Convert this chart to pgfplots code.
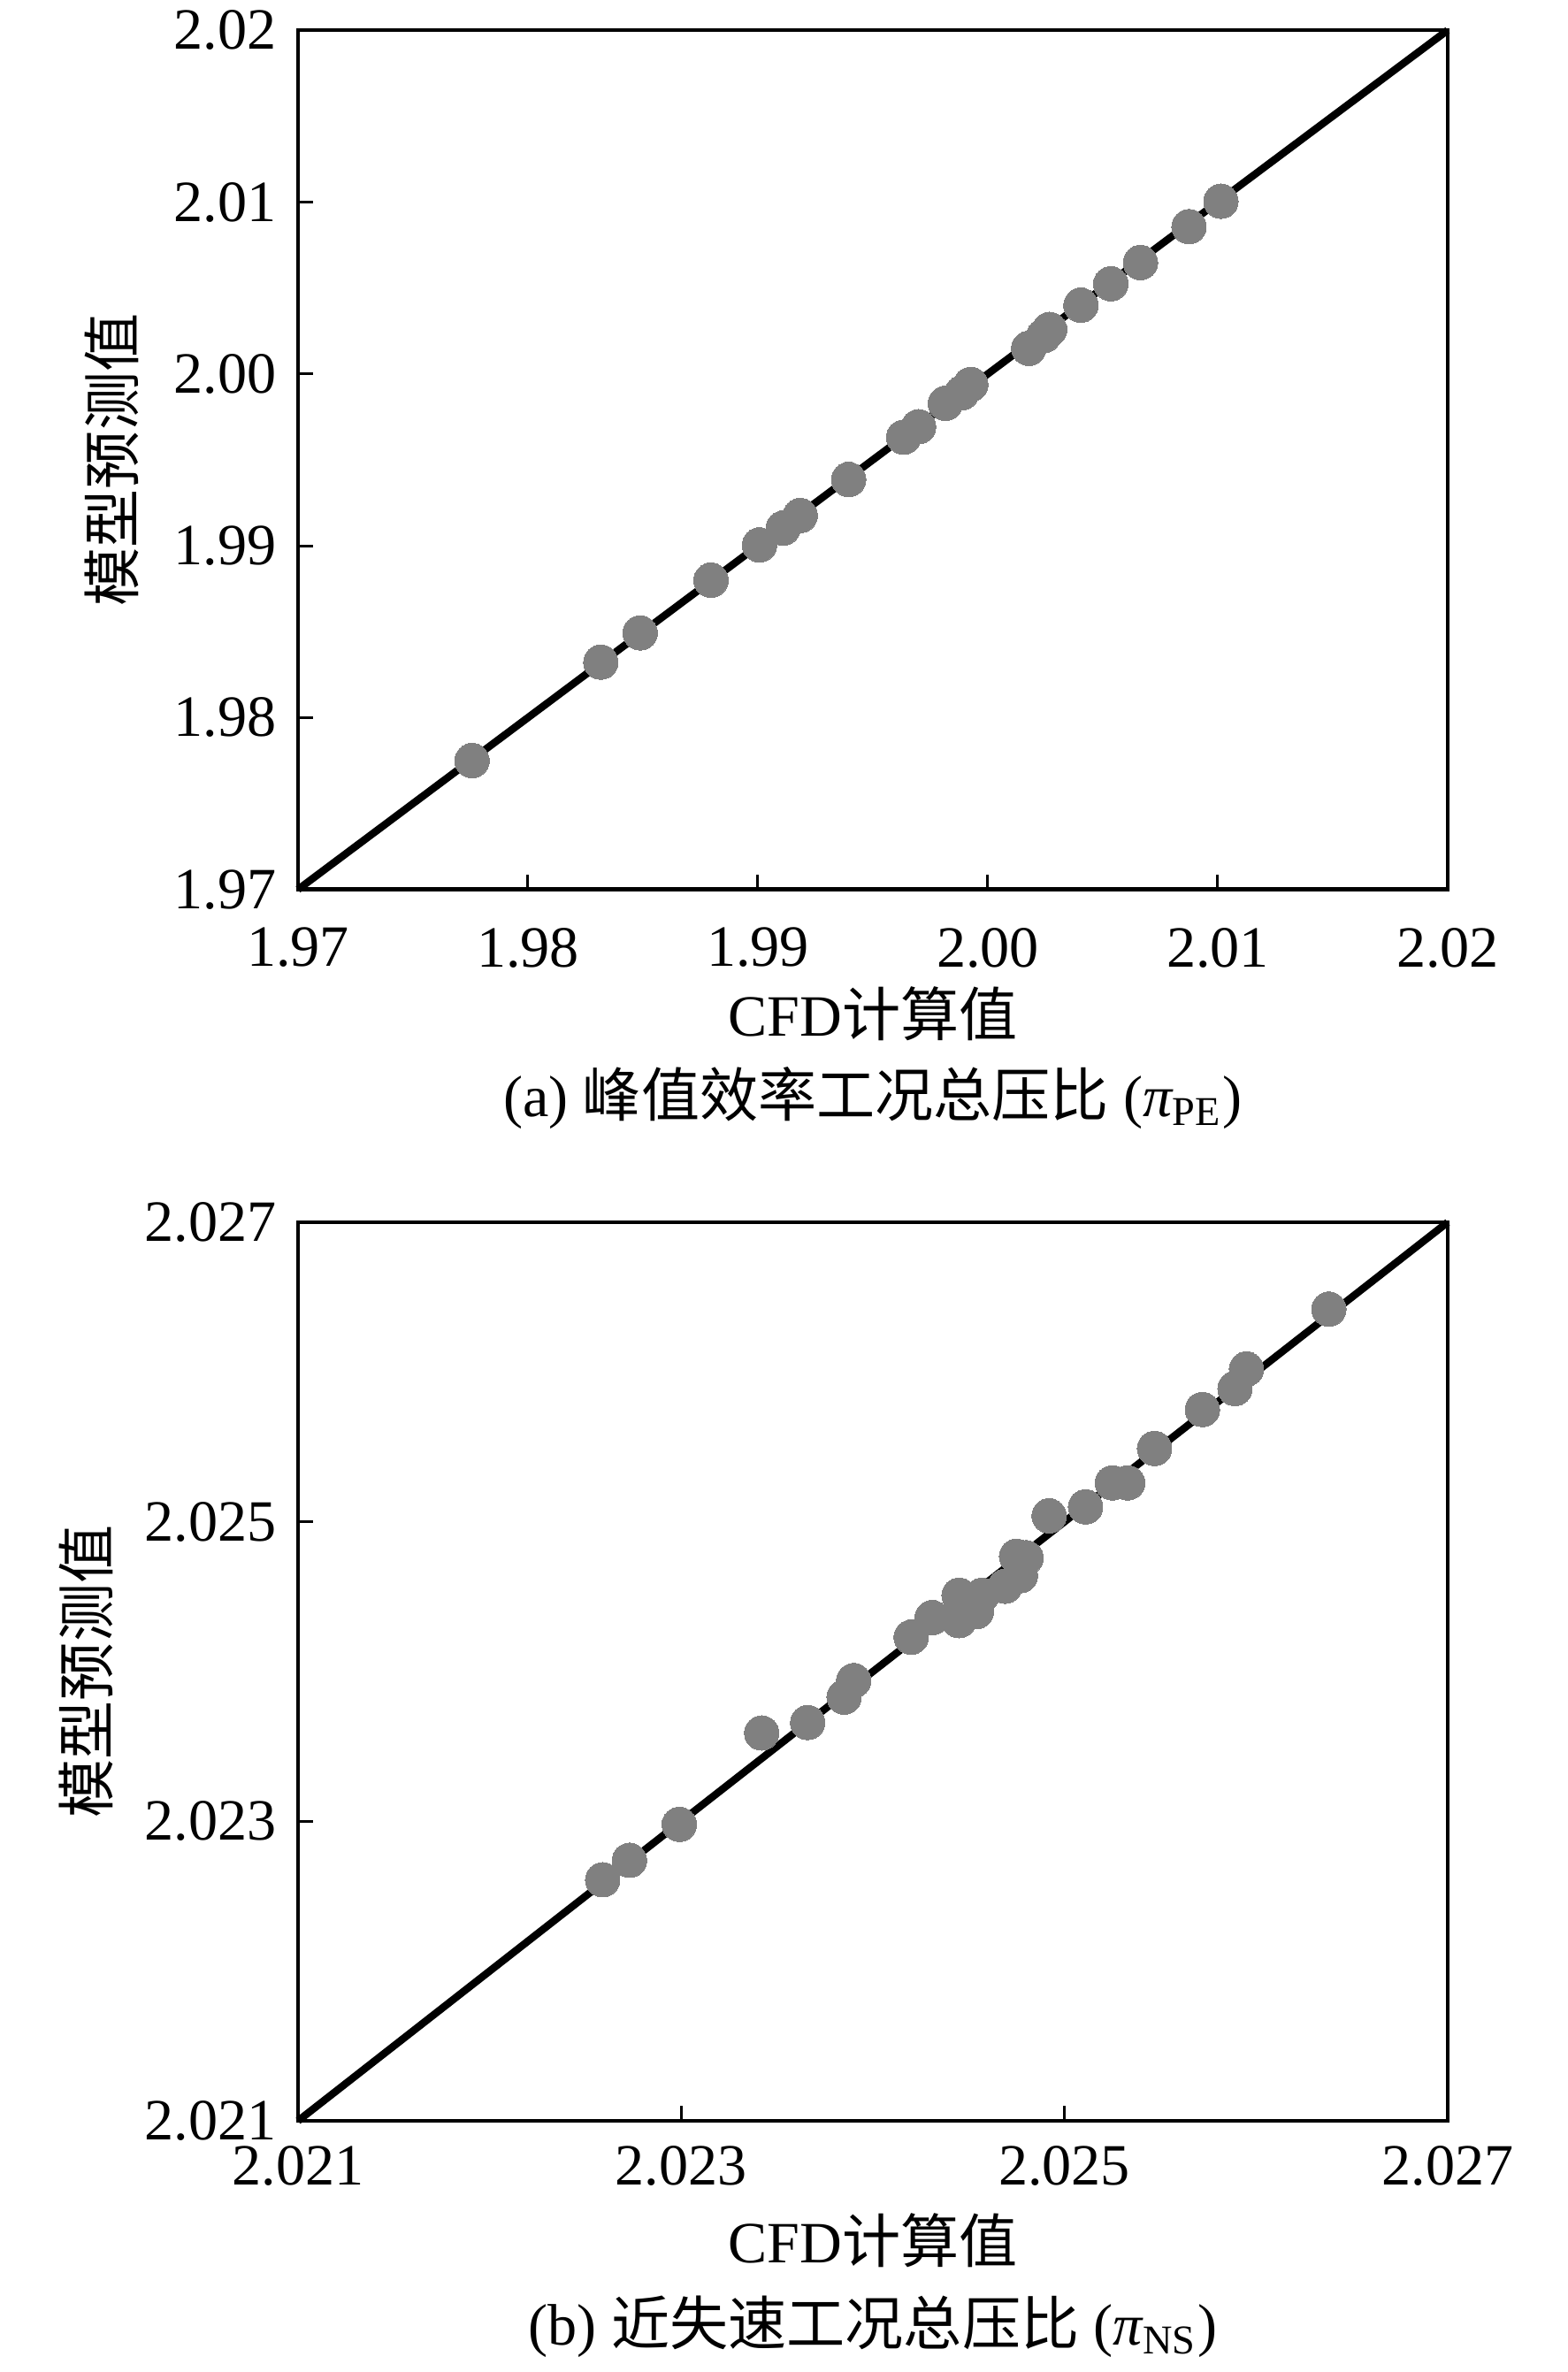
\documentclass[border=0pt]{standalone}
\usepackage{fontspec}
\setmainfont{Liberation Serif}
\newfontfamily\cjk{Noto Sans CJK SC}
\usepackage{pgfplots}
\pgfplotsset{compat=1.18}
\definecolor{ptgray}{RGB}{128,128,128}
\pgfplotsset{
  myax/.style={
    scale only axis,
    width=76mm,
    axis line style={line width=0.75pt},
    tick align=inside,
    xtick pos=bottom,
    ytick pos=left,
    major tick length=1mm,
    every tick/.style={black, line width=0.5pt},
    font=\fontsize{11}{13}\selectfont,
    /pgf/number format/assume math mode=true,
    yticklabel style={xshift=-0.2mm},
    clip=false,
  },
  pts/.style={only marks, mark=*, mark size=3.25pt,
    mark options={fill=ptgray, draw=ptgray, line width=0pt}},
}
\begin{document}
\begin{tikzpicture}
\useasboundingbox (0,0) rectangle (103.6mm,156.8mm);
% ---------- (a) ----------
\begin{axis}[myax,
  at={(19.7mm,98.0mm)}, anchor=south west,
  height=56.8mm,
  xmin=1.97, xmax=2.02, ymin=1.97, ymax=2.02,
  xtick={1.97,1.98,1.99,2.00,2.01,2.02},
  xticklabels={1.97,1.98,1.99,2.00,2.01,2.02},
  ytick={1.97,1.98,1.99,2.00,2.01,2.02},
  yticklabels={1.97,1.98,1.99,2.00,2.01,2.02},
  xticklabel style={yshift=-1.3mm},
]
\addplot[pts] coordinates {
(1.97757,1.97750) (1.98317,1.98323) (1.98488,1.98493) (1.98796,1.98800)
(1.99007,1.99005) (1.99110,1.99103) (1.99184,1.99176) (1.99395,1.99386)
(1.99634,1.99632) (1.99699,1.99693) (1.99816,1.99829) (1.99887,1.99890)
(1.99926,1.99939) (2.00178,2.00149) (2.00243,2.00222) (2.00269,2.00259)
(2.00405,2.00400) (2.00535,2.00525) (2.00664,2.00648) (2.00875,2.00857)
(2.01014,2.01005)
};
\addplot[black, line width=1.4pt] coordinates {(1.97,1.97) (2.02,2.02)};
\end{axis}
% ---------- (b) ----------
\begin{axis}[myax,
  at={(19.7mm,16.6mm)}, anchor=south west,
  height=59.4mm,
  xmin=2.021, xmax=2.027, ymin=2.021, ymax=2.027,
  xtick={2.021,2.023,2.025,2.027},
  xticklabels={2.021,2.023,2.025,2.027},
  ytick={2.021,2.023,2.025,2.027},
  yticklabels={2.021,2.023,2.025,2.027},
  xticklabel style={yshift=-0.45mm},
]
\addplot[pts] coordinates {
(2.02259,2.02261) (2.02273,2.02274) (2.02299,2.02298) (2.02342,2.02359)
(2.02366,2.02366) (2.02385,2.02383) (2.02390,2.02394) (2.02420,2.02423)
(2.02431,2.02436) (2.02445,2.02451) (2.02445,2.02434) (2.02457,2.02451)
(2.02454,2.02440) (2.02469,2.02457) (2.02475,2.02477) (2.02477,2.02464)
(2.02480,2.02476) (2.02492,2.02504) (2.02511,2.02510) (2.02525,2.02526)
(2.02533,2.02526) (2.02547,2.02549) (2.02572,2.02575) (2.02589,2.02589)
(2.02595,2.02602) (2.02638,2.02642)
};
\addplot[black, line width=1.4pt] coordinates {(2.021,2.021) (2.027,2.027)};
\end{axis}
% ---------- labels ----------
\begin{scope}[every node/.style={font=\fontsize{11}{13}\selectfont, inner sep=0pt}]
\node[rotate=90] at (7.4mm,126.4mm) {\cjk 模型预测值};
\node at (57.7mm,89.8mm) {CFD{\cjk 计算值}};
\node at (57.7mm,84.2mm) {(a) {\cjk 峰值效率工况总压比} ({\itshape π}\textsubscript{PE})};
\node[rotate=90] at (5.7mm,46.3mm) {\cjk 模型预测值};
\node at (57.7mm,8.7mm) {CFD{\cjk 计算值}};
\node at (57.7mm,3.0mm) {(b) {\cjk 近失速工况总压比} ({\itshape π}\textsubscript{NS})};
\end{scope}
\end{tikzpicture}
\end{document}
